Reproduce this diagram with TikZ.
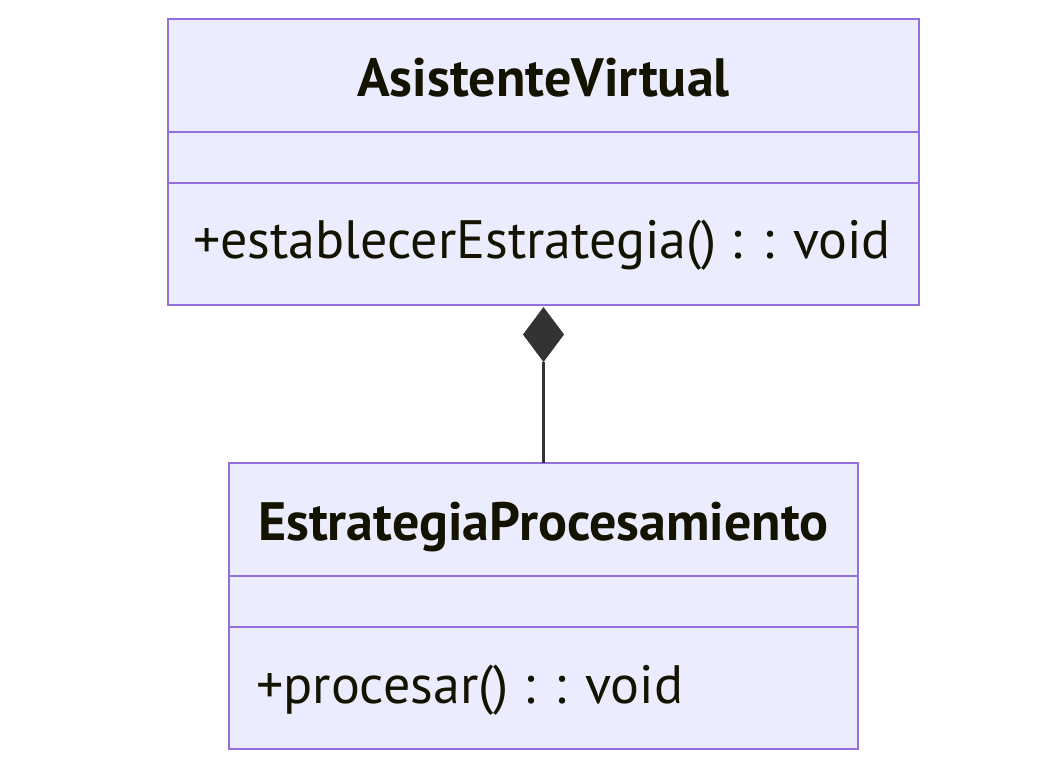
\documentclass[tikz,border=0pt]{standalone}
\usepackage{fontspec}
\setmainfont{PT Sans}
\begin{document}
\begin{tikzpicture}[x=1pt,y=-1pt]
\definecolor{boxfill}{HTML}{ECECFF}
\definecolor{boxline}{HTML}{9370DB}
\definecolor{txt}{HTML}{131300}
\definecolor{conn}{HTML}{333333}
\tikzset{
  classbox/.style={draw=boxline,fill=boxfill,line width=2.6pt},
  sep/.style={draw=boxline,line width=2.6pt},
  title/.style={text=txt,font=\fontsize{54}{64}\selectfont\bfseries,inner sep=0pt,anchor=base},
  member/.style={text=txt,font=\fontsize{54}{64}\selectfont,inner sep=0pt,anchor=base west},
}
\useasboundingbox (0,0) rectangle (1040,774);
\fill[white] (0,0) rectangle (1040,774);
% top class
\draw[classbox] (168,19) rectangle (919,305);
\draw[sep] (168,132) -- (919,132);
\draw[sep] (168,183) -- (919,183);
\node[title] (t1) at (543.5,96) {AsistenteVirtual};
\node[member] (m1) at (193,258) {+establecerEstrategia() : : void};
\coordinate (etop) at (543.5,463);
% bottom class
\draw[classbox] (229,463) rectangle (858,749);
\draw[sep] (229,576) -- (858,576);
\draw[sep] (229,627) -- (858,627);
\node[title] (t2) at (543.5,540) {EstrategiaProcesamiento};
\node[member] (m2) at (256,703) {+procesar() : : void};
% composition
\coordinate (dtop) at (543.5,307);
\coordinate (dbot) at (543.5,362);
\draw[conn,line width=2.6pt] (dbot) -- (etop);
\fill[conn] (dtop) -- (564,334.5) -- (dbot) -- (523,334.5) -- cycle;
\end{tikzpicture}
\end{document}
